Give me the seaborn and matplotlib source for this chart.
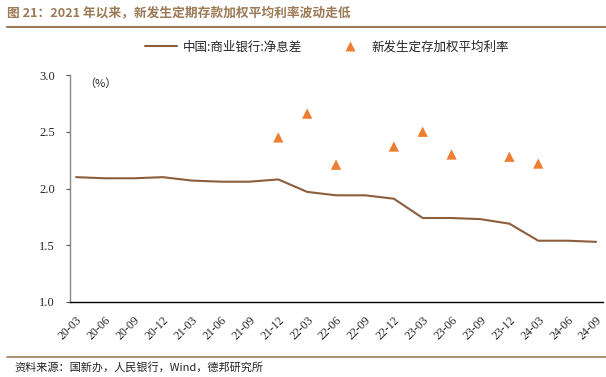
import matplotlib
matplotlib.use("Agg")
import matplotlib.pyplot as plt
import seaborn as sns
import numpy as np
import pandas as pd
from matplotlib.lines import Line2D

categories = ["20-03", "20-06", "20-09", "20-12", "21-03", "21-06", "21-09", "21-12",
              "22-03", "22-06", "22-09", "22-12", "23-03", "23-06", "23-09", "23-12",
              "24-03", "24-06", "24-09"]
nim = [2.10, 2.09, 2.09, 2.10, 2.07, 2.06, 2.06, 2.08, 1.97, 1.94, 1.94, 1.91,
       1.74, 1.74, 1.73, 1.69, 1.54, 1.54, 1.53]
deposit_rate = [None, None, None, None, None, None, None, 2.45, 2.66, 2.21, None, 2.37,
                2.50, 2.30, None, 2.28, 2.22, None, None]
yticks = [1.0, 1.5, 2.0, 2.5, 3.0]

sns.set_theme(style="white")
plt.rcParams['font.family'] = ['Noto Sans CJK SC', 'DejaVu Sans']

LINE_C = "#8B5E3C"
TRI_C = "#ED7D31"
TITLE_C = "#9C7A56"

W, H = 606, 377
fig = plt.figure(figsize=(W / 100, H / 100), dpi=100)
ax = fig.add_axes([70 / W, (H - 302) / H, 533 / W, 227 / H])

df = pd.DataFrame({"x": np.arange(len(categories)), "nim": nim,
                   "rate": pd.to_numeric(pd.Series(deposit_rate), errors="coerce")})
sns.lineplot(data=df, x="x", y="nim", ax=ax, color=LINE_C, linewidth=1.5)
sns.scatterplot(data=df.dropna(subset=["rate"]), x="x", y="rate", ax=ax, marker="^",
                color=TRI_C, s=55, edgecolor="none")

ax.set_xlim(-0.21, 18.24)
ax.set_ylim(1.0, 3.0)
ax.set_yticks(yticks)
ax.set_yticklabels([f"{v:.1f}" for v in yticks], fontfamily="Liberation Serif", fontsize=9)
ax.set_xticks(range(len(categories)))
ax.set_xticklabels(categories, rotation=45, ha="right", rotation_mode="anchor",
                   fontfamily="Liberation Serif", fontsize=8.5)
ax.set_xlabel("")
ax.set_ylabel("")
for s in ["top", "right"]:
    ax.spines[s].set_visible(False)
ax.spines["left"].set_color("#888888")
ax.spines["left"].set_linewidth(1.0)
ax.spines["bottom"].set_color("black")
ax.spines["bottom"].set_linewidth(1.0)
ax.tick_params(axis="y", left=True, length=3, width=0.8, color="#555555", pad=8)
ax.tick_params(axis="x", bottom=False, pad=3)
ax.grid(False)
ax.text(0.3, 2.97, "（%）", fontsize=8, va="top", ha="left",
        family=["Noto Sans CJK SC", "DejaVu Sans"])

handles = [Line2D([0], [0], color=LINE_C, lw=1.5),
           Line2D([0], [0], marker="^", color="none", markerfacecolor=TRI_C,
                  markeredgecolor="none", markersize=7)]
fig.legend(handles, ["中国:商业银行:净息差", "新发生定存加权平均利率"], loc="center",
           bbox_to_anchor=(327 / W, 1 - 47 / H), ncol=2, frameon=False, fontsize=9.0,
           handlelength=2.6, columnspacing=2.6, handletextpad=0.4)

fig.text(7 / W, 1 - 13 / H, "图 21：2021 年以来，新发生定期存款加权平均利率波动走低",
         color=TITLE_C, fontsize=9.2, fontweight="bold", va="center", ha="left")
fig.add_artist(Line2D([7 / W, 1.0], [1 - 27 / H, 1 - 27 / H], color=TITLE_C, lw=1.5,
                      transform=fig.transFigure))
fig.add_artist(Line2D([7 / W, 1.0], [1 - 357 / H, 1 - 357 / H], color=TITLE_C, lw=1.2,
                      transform=fig.transFigure))
fig.text(14 / W, 1 - 367 / H, "资料来源：国新办，人民银行，Wind，德邦研究所",
         fontsize=8, va="center", ha="left", color="#222222")

fig.savefig("out.png", dpi=100)
